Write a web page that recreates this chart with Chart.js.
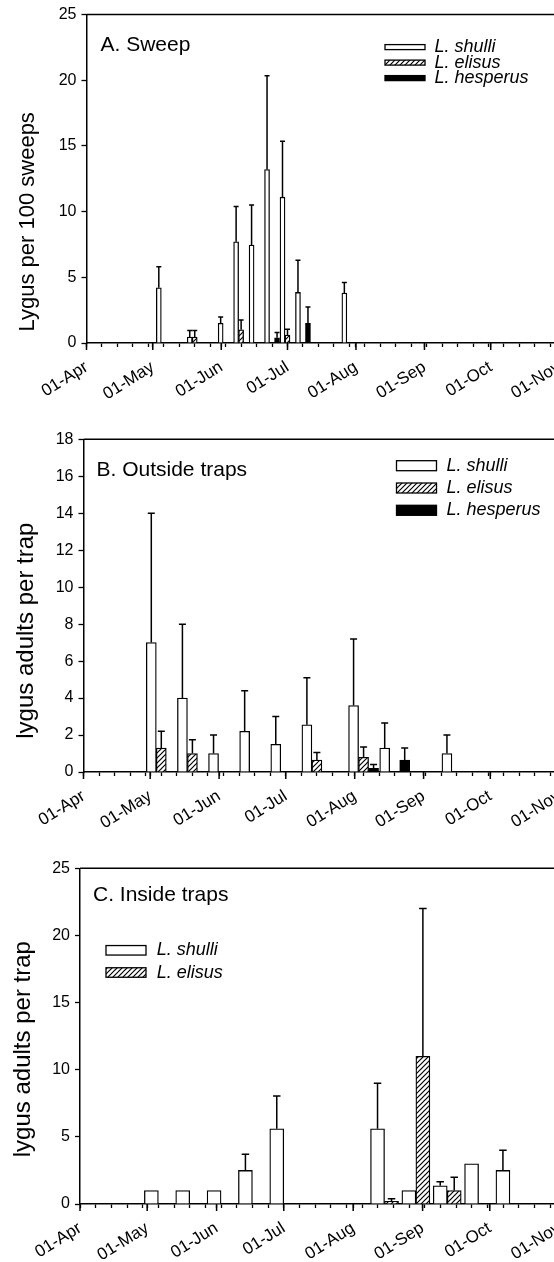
<!DOCTYPE html>
<html>
<head>
<meta charset="utf-8">
<script src="https://cdn.jsdelivr.net/npm/chart.js@4.4.0/dist/chart.umd.min.js"></script>
<style>
html, body { margin: 0; padding: 0; background: #fff; width: 554px; height: 1262px; overflow: hidden; }
.panel { position: absolute; left: 0; width: 580px; }
</style>
</head>
<body>
<div class="panel" style="top:0;height:400px"><canvas id="sweep"></canvas></div>
<div class="panel" style="top:420px;height:409px"><canvas id="outside"></canvas></div>
<div class="panel" style="top:850px;height:411px"><canvas id="inside"></canvas></div>
<script>
// x axis: dates written as DD-Mon, placed by days after 01-Apr
var monthNames = ['Jan','Feb','Mar','Apr','May','Jun','Jul','Aug','Sep','Oct','Nov','Dec'];
var xTickLabels = ['01-Apr','01-May','01-Jun','01-Jul','01-Aug','01-Sep','01-Oct','01-Nov'];
var species = ['L. shulli', 'L. elisus', 'L. hesperus'];

// A. Sweep (mean, SE)
var sweepDates = ['06-May','20-May','03-Jun','10-Jun','17-Jun','24-Jun','01-Jul','08-Jul','29-Jul'];
var sweepShulli = [4.2, 0.45, 1.5, 7.7, 7.45, 13.2, 11.1, 3.85, 3.8];
var sweepShulliSE = [1.6, 0.5, 0.47, 2.7, 3.05, 7.15, 4.25, 2.45, 0.8];
var sweepElisus = [null, 0.45, null, 1.0, null, null, 0.6, null, null];
var sweepElisusSE = [null, 0.5, null, 0.75, null, null, 0.45, null, null];
var sweepHesperus = [null, null, null, null, null, 0.4, null, 1.5, null];
var sweepHesperusSE = [null, null, null, null, null, 0.4, null, 1.25, null];

// B. Outside traps
var outDates = ['06-May','20-May','03-Jun','17-Jun','01-Jul','15-Jul','05-Aug','19-Aug','16-Sep'];
var outShulli = [7.0, 4.0, 1.0, 2.2, 1.5, 2.55, 3.6, 1.3, 1.0];
var outShulliSE = [7.0, 4.0, 1.0, 2.2, 1.5, 2.55, 3.6, 1.35, 1.0];
var outElisus = [1.3, 1.0, null, null, null, 0.65, 0.8, null, null];
var outElisusSE = [0.9, 0.75, null, null, null, 0.4, 0.55, null, null];
var outHesperus = [null, null, null, null, null, null, 0.2, 0.65, null];
var outHesperusSE = [null, null, null, null, null, null, 0.2, 0.65, null];

// C. Inside traps
var inDates = ['06-May','20-May','03-Jun','17-Jun','01-Jul','15-Aug','29-Aug','12-Sep','26-Sep','10-Oct'];
var inShulli = [1.0, 1.0, 1.0, 2.5, 5.6, 5.6, 1.0, 1.35, 3.0, 2.5];
var inShulliSE = [null, null, null, 1.2, 2.45, 3.4, null, 0.3, null, 1.5];
var inElisus = [null, null, null, null, null, 0.2, 11.0, 1.0, null, null];
var inElisusSE = [null, null, null, null, null, 0.2, 11.0, 1.0, null, null];

var FONT = '"Liberation Sans", Arial, Helvetica, sans-serif';
Chart.defaults.font.family = FONT;
Chart.defaults.color = '#000';

function dayOf(s) {
	var p = s.split('-');
	return (Date.UTC(2001, monthNames.indexOf(p[1]), +p[0]) - Date.UTC(2001, 3, 1)) / 864e5;
}

var monthDays = xTickLabels.map(dayOf);
var tickDays = [];
for (var d = 0; d <= monthDays[monthDays.length - 1]; d += 7) tickDays.push(d);
monthDays.forEach(function(m){ if (tickDays.indexOf(m) < 0) tickDays.push(m); });
tickDays.sort(function(a, b){ return a - b; });

function hatch() {
	var c = document.createElement('canvas');
	c.width = 5; c.height = 5;
	var g = c.getContext('2d');
	g.fillStyle = '#fff';
	g.fillRect(0, 0, 5, 5);
	g.strokeStyle = '#000';
	g.lineWidth = 1.2;
	g.beginPath();
	g.moveTo(0, 5); g.lineTo(5, 0);
	g.moveTo(-1, 1); g.lineTo(1, -1);
	g.moveTo(4, 6); g.lineTo(6, 4);
	g.stroke();
	return g.createPattern(c, 'repeat');
}
var fills = ['#fff', hatch(), '#000'];

// error bars (mean + SE) on top of each bar
var errorBars = {
	id: 'errorBars',
	afterDatasetsDraw: function(chart, args, o) {
		var ctx = chart.ctx, y = chart.scales.y;
		chart.data.datasets.forEach(function(ds, i) {
			var meta = chart.getDatasetMeta(i);
			meta.data.forEach(function(bar, j) {
				var v = ds.data[j].y, e = ds.errors[j];
				if (v == null || e == null) return;
				var top = y.getPixelForValue(v + e);
				ctx.save();
				ctx.strokeStyle = '#000';
				ctx.lineWidth = 1.5;
				ctx.beginPath();
				ctx.moveTo(bar.x, bar.y);
				ctx.lineTo(bar.x, top);
				ctx.moveTo(bar.x - o.cap / 2, top);
				ctx.lineTo(bar.x + o.cap / 2, top);
				ctx.stroke();
				ctx.restore();
			});
		});
	}
};

// top frame line, longer month ticks, panel title, y title and legend
var decor = {
	id: 'decor',
	afterDraw: function(chart, args, o) {
		var a = chart.chartArea, ctx = chart.ctx, x = chart.scales.x;
		ctx.save();
		ctx.strokeStyle = '#000';
		ctx.lineWidth = 1.5;
		ctx.beginPath();
		ctx.moveTo(a.left, a.top);
		ctx.lineTo(a.right, a.top);
		monthDays.forEach(function(m) {
			var px = x.getPixelForValue(m);
			ctx.moveTo(px, a.bottom);
			ctx.lineTo(px, a.bottom + 7);
		});
		ctx.stroke();

		ctx.fillStyle = '#000';
		ctx.font = '21px ' + FONT;
		ctx.textAlign = 'left';
		ctx.textBaseline = 'alphabetic';
		ctx.fillText(o.title, a.left + o.titleX, a.top + o.titleY);

		ctx.save();
		ctx.translate(o.yTitleX, (a.top + a.bottom) / 2 + o.yTitleShift);
		ctx.rotate(-Math.PI / 2);
		ctx.font = o.yTitleSize + 'px ' + FONT;
		ctx.textAlign = 'center';
		ctx.textBaseline = 'middle';
		ctx.fillText(o.yTitle, 0, 0);
		ctx.restore();

		ctx.font = 'italic 18px ' + FONT;
		ctx.textBaseline = 'middle';
		chart.data.datasets.forEach(function(ds, i) {
			var bx = a.left + o.legendX, cy = a.top + o.legendY + i * o.legendGap;
			ctx.fillStyle = ds.backgroundColor;
			ctx.fillRect(bx, cy - o.boxH / 2, 40, o.boxH);
			ctx.lineWidth = 1.3;
			ctx.strokeRect(bx, cy - o.boxH / 2, 40, o.boxH);
			ctx.fillStyle = '#000';
			ctx.fillText(ds.label, bx + o.textDx, cy);
		});
		ctx.restore();
	}
};

function makeChart(id, p) {
	var datasets = p.series.map(function(s, i) {
		return {
			label: species[i],
			data: p.dates.map(function(dt, j){ return {x: dayOf(dt), y: s[j]}; }),
			errors: p.errors[i],
			backgroundColor: fills[i],
			borderColor: '#000',
			borderWidth: 1.3,
			barThickness: p.barWidth
		};
	});
	return new Chart(document.getElementById(id), {
		type: 'bar',
		data: { datasets: datasets },
		plugins: [errorBars, decor],
		options: {
			responsive: true,
			maintainAspectRatio: false,
			animation: false,
			layout: { padding: { top: p.top, left: 0, right: 0, bottom: 0 } },
			plugins: {
				legend: { display: false },
				tooltip: { enabled: false },
				errorBars: { cap: p.cap },
				decor: p.decor
			},
			scales: {
				x: {
					type: 'linear',
					min: 0,
					max: 215,
					offset: false,
					afterBuildTicks: function(s) {
						s.ticks = tickDays.map(function(v){ return {value: v}; });
					},
					afterFit: function(s) { s.height = 57; },
					ticks: {
						autoSkip: false,
						minRotation: 32,
						maxRotation: 32,
						padding: 10,
						font: { size: 17 },
						callback: function(v) {
							var k = monthDays.indexOf(v);
							return k < 0 ? '' : xTickLabels[k];
						}
					},
					grid: { offset: false, drawOnChartArea: false, tickLength: 4, tickColor: '#000', tickWidth: 1.3 },
					border: { color: '#000', width: 1.5 }
				},
				y: {
					min: 0,
					max: p.yMax,
					afterFit: function(s) { s.width = p.left; },
					ticks: { stepSize: p.yStep, padding: 5, font: { size: 16 } },
					grid: { drawOnChartArea: false, tickLength: 5, tickColor: '#000', tickWidth: 1.3 },
					border: { color: '#000', width: 1.5 }
				}
			}
		}
	});
}

makeChart('sweep', {
	dates: sweepDates,
	series: [sweepShulli, sweepElisus, sweepHesperus],
	errors: [sweepShulliSE, sweepElisusSE, sweepHesperusSE],
	barWidth: 5, cap: 5, top: 13, left: 86.5, yMax: 25, yStep: 5,
	decor: { title: 'A. Sweep', titleX: 14, titleY: 36,
		yTitle: 'Lygus per 100 sweeps', yTitleSize: 22, yTitleX: 28, yTitleShift: 43,
		legendX: 298.5, legendY: 32.5, legendGap: 15.5, boxH: 5, textDx: 49.5 }
});

makeChart('outside', {
	dates: outDates,
	series: [outShulli, outElisus, outHesperus],
	errors: [outShulliSE, outElisusSE, outHesperusSE],
	barWidth: 10, cap: 7, top: 19.3, left: 83.5, yMax: 18, yStep: 2,
	decor: { title: 'B. Outside traps', titleX: 13, titleY: 36.4,
		yTitle: 'lygus adults per trap', yTitleSize: 24, yTitleX: 26.7, yTitleShift: 25,
		legendX: 313, legendY: 26.4, legendGap: 22.3, boxH: 10, textDx: 50 }
});

makeChart('inside', {
	dates: inDates,
	series: [inShulli, inElisus],
	errors: [inShulliSE, inElisusSE],
	barWidth: 14, cap: 7.5, top: 18.3, left: 80, yMax: 25, yStep: 5,
	decor: { title: 'C. Inside traps', titleX: 13, titleY: 32.4,
		yTitle: 'lygus adults per trap', yTitleSize: 24, yTitleX: 23.5, yTitleShift: 13,
		legendX: 26, legendY: 82, legendGap: 22.2, boxH: 9.5, textDx: 50.7 }
});
</script>
</body>
</html>
